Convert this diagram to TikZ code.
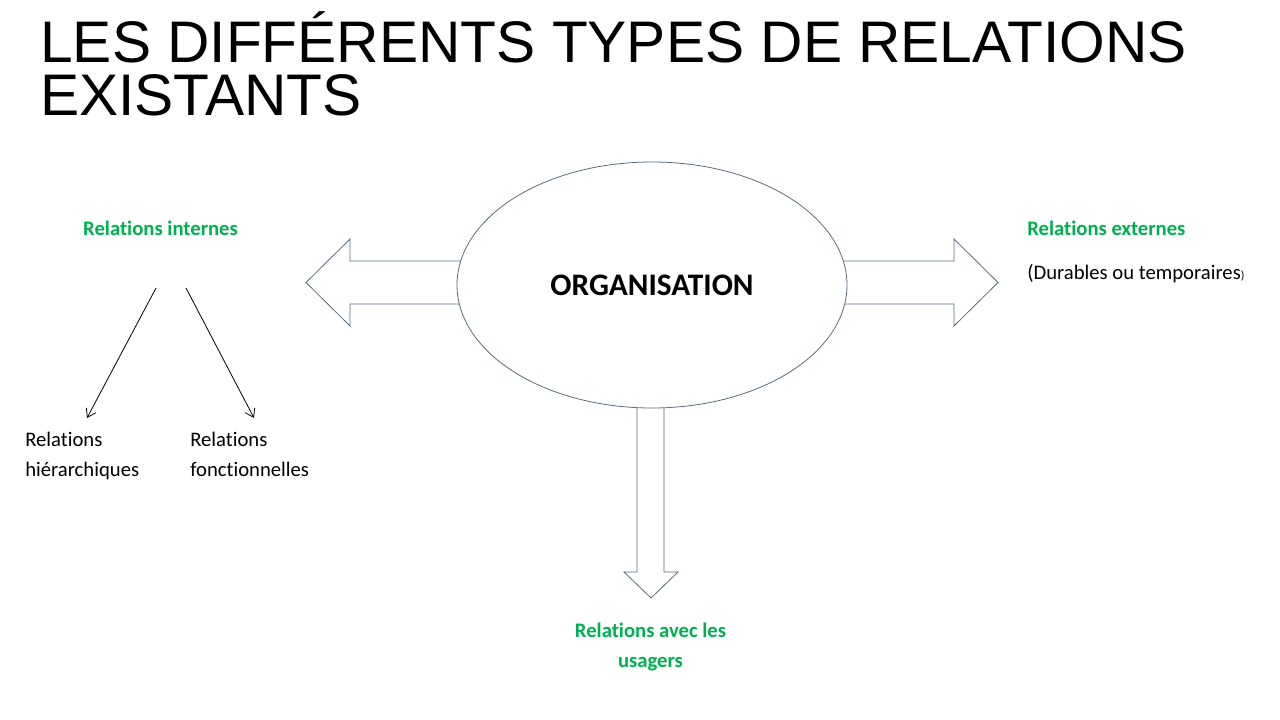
\documentclass[tikz,border=0pt]{standalone}
\usepackage{fontspec}
\setmainfont{Carlito}[Ligatures=NoCommon]
\newfontfamily\titlefont{Liberation Sans}
\usetikzlibrary{
    arrows.meta,
    positioning,
    shapes.geometric
}
\definecolor{relgreen}{RGB}{0,176,80}
\definecolor{shapeblue}{RGB}{88,108,128}

\begin{document}
\begin{tikzpicture}[
    x=0.75pt, y=-0.75pt,
    titletext/.style={
        anchor=base west, inner sep=0pt,
        font=\titlefont\fontsize{44}{40}\selectfont
    },
    heading/.style={
        inner sep=0pt, text=relgreen, align=center,
        font=\bfseries\fontsize{15.5}{22.5}\selectfont
    },
    plain/.style={
        inner sep=0pt, align=left,
        font=\fontsize{15.5}{22.5}\selectfont
    },
    bigarrow/.style={draw=shapeblue, line width=0.6pt, fill=white, line join=miter},
    thinarrow/.style={-{Straight Barb[length=6pt,width=8pt]}, line width=0.6pt}
]
\useasboundingbox (0,0) rectangle (1280,720);

% Title
\node[titletext] (title1) at (40,63) {LES DIFFÉRENTS TYPES DE RELATIONS};
\node[titletext] (title2) at (40,116) {EXISTANTS};

% Block arrows (drawn before the ellipse so it covers their inner ends)
\draw[bigarrow] (480,261) -- (350,261) -- (350,239) -- (306,282.5)
    -- (350,326) -- (350,304) -- (480,304) -- cycle;
\draw[bigarrow] (820,261) -- (954,261) -- (954,239) -- (998,282.5)
    -- (954,326) -- (954,304) -- (820,304) -- cycle;
\draw[bigarrow] (637,380) -- (637,572) -- (624,572) -- (651,598)
    -- (678,572) -- (664,572) -- (664,380) -- cycle;

% Central ellipse
\node[ellipse, draw=shapeblue, line width=0.6pt, fill=white, inner sep=0pt,
      minimum width=292.5pt, minimum height=184.5pt,
      font=\bfseries\fontsize{23.5}{28}\selectfont] (org) at (652,285) {ORGANISATION};

% Relations internes
\node[heading, anchor=base] (internes) at (160.5,236) {Relations internes};
\node[plain, anchor=base west] (hier) at (25,476) {Relations\\hiérarchiques};
\node[plain, anchor=base west] (fonct) at (190,476) {Relations\\fonctionnelles};
\coordinate (hstart) at (156,288);
\coordinate (hend) at (87,418);
\coordinate (fstart) at (186,288);
\coordinate (fend) at (254,418);
\draw[thinarrow] (hstart) -- (hend);
\draw[thinarrow] (fstart) -- (fend);

% Relations externes
\node[heading, anchor=base west] (externes) at (1027,235) {Relations externes};
\node[plain, anchor=base west] (duree) at (1027,279)
    {(Durables ou temporaires{\fontsize{9}{9}\selectfont)}};

% Relations avec les usagers
\node[heading, anchor=base] (usagers) at (650.5,667) {Relations avec les\\usagers};

\end{tikzpicture}
\end{document}
